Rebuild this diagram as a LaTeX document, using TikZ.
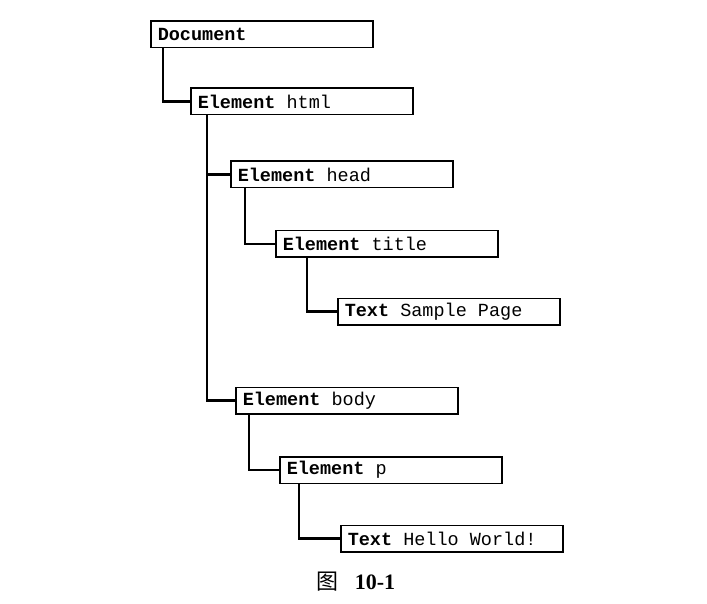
\documentclass[tikz,border=0pt]{standalone}
\usepackage{fontspec}
\setmonofont{Liberation Mono}
\setmainfont{Liberation Serif}
\newfontfamily\cjk{Noto Sans CJK SC}
\begin{document}
\begin{tikzpicture}[x=1pt,y=-1pt,
  domnode/.style={draw,line width=1.5pt,anchor=north west,inner xsep=7pt,inner ysep=0pt,
    text width=208pt,align=left,minimum height=26.5pt,font=\ttfamily\fontsize{18.5}{21}\selectfont},
  link/.style={line width=2.2pt}]
\useasboundingbox (0,0) rectangle (707,604);
\node[domnode] (doc) at (150,20.5) {\textbf{Document}};
\node[domnode] (html) at (190,87.5) {\textbf{Element}\hspace{0.6em}html};
\node[domnode] (head) at (230,160.5) {\textbf{Element}\hspace{0.6em}head};
\node[domnode] (title) at (275,230) {\textbf{Element}\hspace{0.6em}title};
\node[domnode] (sample) at (337,297.5) {\textbf{Text}\hspace{0.6em}Sample\hspace{0.6em}Page};
\node[domnode] (body) at (235,386.5) {\textbf{Element}\hspace{0.6em}body};
\node[domnode] (p) at (279,456) {\textbf{Element}\hspace{0.6em}p};
\node[domnode] (hello) at (340,524.5) {\textbf{Text}\hspace{0.6em}Hello\hspace{0.6em}World!};
\draw[link] ([xshift=13pt]doc.south west) |- (html.west);
\draw[link] ([xshift=17pt]html.south west) |- (body.west);
\draw[link] ([xshift=17pt]html.south west |- head.west) -- (head.west);
\draw[link] ([xshift=15pt]head.south west) |- (title.west);
\draw[link] ([xshift=32pt]title.south west) |- (sample.west);
\draw[link] ([xshift=14pt]body.south west) |- (p.west);
\draw[link] ([xshift=20pt]p.south west) |- (hello.west);
\node[font=\fontsize{22}{24}\selectfont] (cap) at (356,582) {{\cjk 图}\hspace{16pt}\textbf{10-1}};
\end{tikzpicture}
\end{document}
